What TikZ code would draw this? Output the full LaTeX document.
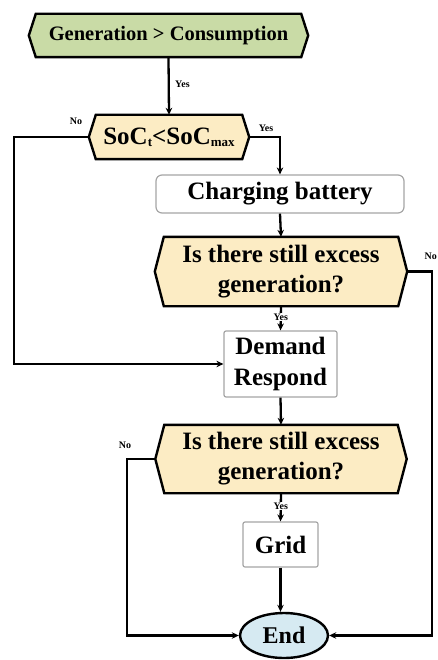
\documentclass[tikz,border=0pt]{standalone}
\usepackage{fontspec}
\setmainfont{Liberation Serif}
\usetikzlibrary{arrows.meta,shapes.geometric,backgrounds}
\definecolor{genfill}{RGB}{201,219,166}
\definecolor{decfill}{RGB}{252,236,196}
\definecolor{endfill}{RGB}{214,234,242}
\definecolor{boxline}{RGB}{165,165,165}
\newcommand\hexshape[3]{%
  \draw[hexline,fill=#3] (#1.north west) -- (#1.north east) -- ([xshift=#2]#1.east) -- (#1.south east) -- (#1.south west) -- ([xshift=-#2]#1.west) -- cycle;}
\newcommand\mysub[1]{\raisebox{-2pt}{\fontsize{13}{14}\selectfont #1}}
\begin{document}
\begin{tikzpicture}[x=1pt,y=-1pt,
  hexnode/.style={inner sep=0pt,align=center,font=\fontsize{25}{30}\selectfont\bfseries},
  hexline/.style={draw=black,line width=2.4pt,line join=miter},
  procbox/.style={draw=boxline,line width=1.2pt,rounded corners=2pt,inner sep=0pt,align=center,font=\fontsize{25}{31}\selectfont\bfseries},
  endnode/.style={ellipse,draw=black,line width=2.4pt,fill=endfill,inner sep=0pt,font=\fontsize{24}{28}\selectfont\bfseries},
  conn/.style={draw=black,line width=2.3pt,-{Stealth[length=7pt,width=6.5pt]}},
  lbl/.style={font=\fontsize{10}{12}\selectfont\bfseries,inner sep=1pt}]
\useasboundingbox (0,0) rectangle (438,660);

\node[hexnode,minimum width=265pt,minimum height=43pt,font=\fontsize{20.5}{24}\selectfont\bfseries] (gen) at (168.5,35.5) {Generation > Consumption};
\node[hexnode,minimum width=146pt,minimum height=44pt] (soc) at (169,137) {SoC\mysub{t}<SoC\mysub{max}};
\node[procbox,rounded corners=6pt,minimum width=248pt,minimum height=38pt] (chg) at (280,194) {Charging battery};
\node[hexnode,minimum width=234pt,minimum height=69pt] (d1) at (281,271.5) {Is there still excess\\generation?};
\node[procbox,minimum width=113pt,minimum height=66pt] (dr) at (280.5,364) {Demand\\Respond};
\node[hexnode,minimum width=233pt,minimum height=68pt] (d2) at (281,459) {Is there still excess\\generation?};
\node[procbox,minimum width=75pt,minimum height=45pt] (grid) at (280.5,544.5) {Grid};
\node[endnode,minimum width=88pt,minimum height=45pt] (end) at (284,635.5) {End};

\begin{scope}[on background layer]
\hexshape{gen}{7pt}{genfill}
\hexshape{soc}{7pt}{decfill}
\hexshape{d1}{9pt}{decfill}
\hexshape{d2}{9pt}{decfill}
\end{scope}

\coordinate (socW) at ([xshift=-7pt]soc.west);
\coordinate (socE) at ([xshift=7pt]soc.east);
\coordinate (d1E) at ([xshift=9pt]d1.east);
\coordinate (d2W) at ([xshift=-9pt]d2.west);
\coordinate (cL) at (14,137);
\coordinate (cR) at (432,271.5);
\coordinate (cL2) at (127,459);

\draw[conn] (gen.south) -- (soc.north);
\node[lbl,anchor=west] at (174,84) {Yes};

\draw[conn] (socW) -- (cL) -- (cL |- dr.west) -- (dr.west);
\node[lbl] at (76,121) {No};

\draw[conn] (socE) -- (socE -| chg.north) -- (chg.north);
\node[lbl] at (266,128) {Yes};

\draw[conn] (chg.south) -- (d1.north);

\draw[conn] (d1E) -- (cR) -- (cR |- end.east) -- (end.east);
\node[lbl,anchor=east] at (438,256) {No};

\draw[conn] (d1.south) -- (dr.north) node[lbl,fill=white,pos=0.45] {Yes};

\draw[conn] (dr.south) -- (d2.north);

\draw[conn] (d2W) -- (cL2) -- (cL2 |- end.west) -- (end.west);
\node[lbl] at (125,445) {No};

\draw[conn] (d2.south) -- (grid.north) node[lbl,fill=white,pos=0.45] {Yes};

\draw[conn] (grid.south) -- (grid.south |- end.north);
\end{tikzpicture}
\end{document}
